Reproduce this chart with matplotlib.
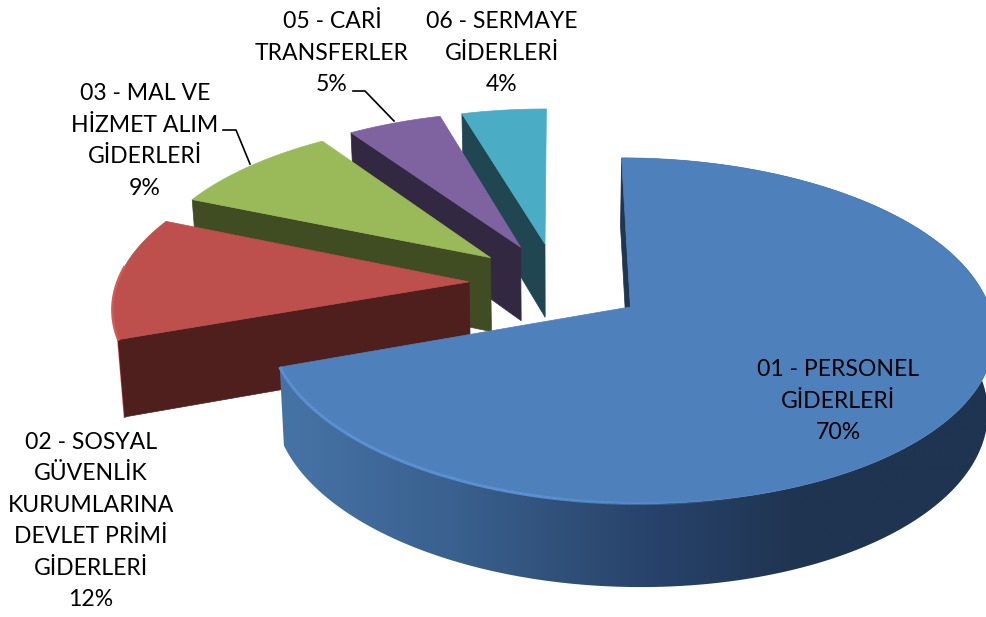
#!/usr/bin/env python3
"""Exploded 3D-look pie of budget spending shares, drawn with plain polygons."""
import numpy as np
import matplotlib
matplotlib.use("Agg")
import matplotlib.pyplot as plt
from matplotlib.colors import to_rgb
from matplotlib.patches import Polygon

categories = [
    "01 - PERSONEL\nGİDERLERİ",
    "02 - SOSYAL\nGÜVENLİK\nKURUMLARINA\nDEVLET PRİMİ\nGİDERLERİ",
    "03 - MAL VE\nHİZMET ALIM\nGİDERLERİ",
    "05 - CARİ\nTRANSFERLER",
    "06 - SERMAYE\nGİDERLERİ",
]
# unrounded shares, labels show them rounded
shares = [69.5, 11.9, 9.1, 5.0, 4.5]
percent_labels = ["70%", "12%", "9%", "5%", "4%"]
top_colors = ["#4e80bc", "#bd4f4c", "#9aba59", "#7f63a1", "#4aacc5"]
wall_colors = ["#1f3550", "#4f1f1e", "#404d22", "#332842", "#1f4651"]
label_xy = [(838, 401), (91, 521), (145, 141), (332, 53), (502, 53)]

# projection of the tilted pie, fitted by eye, in pixels
CX, CY = 557, 283
RX, RY = 352, 163
PERSP = 0.135
EXPLODE = 0.25
DEPTH = 75


def project(u, v, z=0.0):
    w = 1 + PERSP * v
    x = CX + RX * u / w
    y = CY - RY * v / w
    if z:
        x = x + (CX - x) * 0.015
        y = y + DEPTH * z / (1 + 0.09 * v)
    return x, y


def arc(apex, a0, a1, z=0.0):
    t = np.radians(np.linspace(a0, a1, max(int(a1 - a0) * 2, 2)))
    return project(apex[0] + np.sin(t), apex[1] + np.cos(t), z)


def face(ax, xs, ys, color, z):
    p = Polygon(np.column_stack([xs, ys]), closed=True, fc=color, ec=color, lw=0.5, zorder=z)
    ax.add_patch(p)
    return p


fig = plt.figure(figsize=(9.87, 6.17), dpi=100)
ax = fig.add_axes([0, 0, 1, 1])

edges = np.concatenate([[0], np.cumsum(shares)]) * 3.6

# back slices first, the big one last
for i in range(len(shares) - 1, -1, -1):
    a0, a1 = edges[i], edges[i + 1]
    mid = np.radians((a0 + a1) / 2)
    apex = (EXPLODE * np.sin(mid), EXPLODE * np.cos(mid))
    base = 10 * (len(shares) - i)

    ox, oy = arc(apex, a0, a1)
    bx, by = arc(apex, a0, a1, 1)
    ax_top, ay_top = project(*apex)
    ax_bot, ay_bot = project(apex[0], apex[1], 1)

    if i == 0:
        # outer wall of the big slice, shaded left to right
        wall = face(ax, np.r_[ox, bx[::-1]], np.r_[oy, by[::-1]], "none", base + 3)
        grad_x = np.linspace(270, 990, 400)
        grad = np.column_stack([
            np.interp(grad_x, [283, 450, 600, 660, 800, 990], [to_rgb(c)[ch] for c in
                      ["#4673a6", "#3a618f", "#2d4a72", "#27426a", "#1f3450", "#1f3450"]])
            for ch in range(3)
        ])
        im = ax.imshow(grad[np.newaxis, :, :], extent=[270, 990, 617, 0], aspect="auto", zorder=base + 1)
        im.set_clip_path(wall)
        wall.set_edgecolor("none")
    face(ax, [ax_top, ox[0], bx[0], ax_bot], [ay_top, oy[0], by[0], ay_bot], wall_colors[i], base + 2)
    face(ax, np.r_[ax_top, ox], np.r_[ay_top, oy], top_colors[i], base + 3)

    # soft light rim along the front of the top face
    if i == 0:
        hx, hy = arc(apex, 165, a1)
        n = len(hx)
        for k in range(n - 1):
            ax.plot(hx[k:k + 2], hy[k:k + 2], color="#5b91d3", lw=2.2, alpha=min(1, k / (0.35 * n)),
                    solid_capstyle="butt", zorder=base + 4)
    if i == 1:
        hx, hy = arc(apex, a0, a0 + 25)
        ax.plot(hx, hy, color="#d55a55", lw=1.8, zorder=base + 4)
        ax.plot([ox[0], bx[0]], [oy[0], by[0]], color="#c9504c", lw=1.5, zorder=base + 1)

for name, val, (x, y) in zip(categories, percent_labels, label_xy):
    ax.text(x, y, f"{name}\n{val}", ha="center", va="center", fontsize=16.6, family="Lato",
            color="black", linespacing=1.62, zorder=100)

# leader lines
ax.plot([353, 365, 394], [91, 91, 121], color="black", lw=1.2, zorder=100)
ax.plot([223, 236, 250], [130, 130, 164], color="black", lw=1.2, zorder=100)

ax.set_xlim(0, 987)
ax.set_ylim(617, 0)
ax.axis("off")

fig.savefig("out.png", dpi=100)
